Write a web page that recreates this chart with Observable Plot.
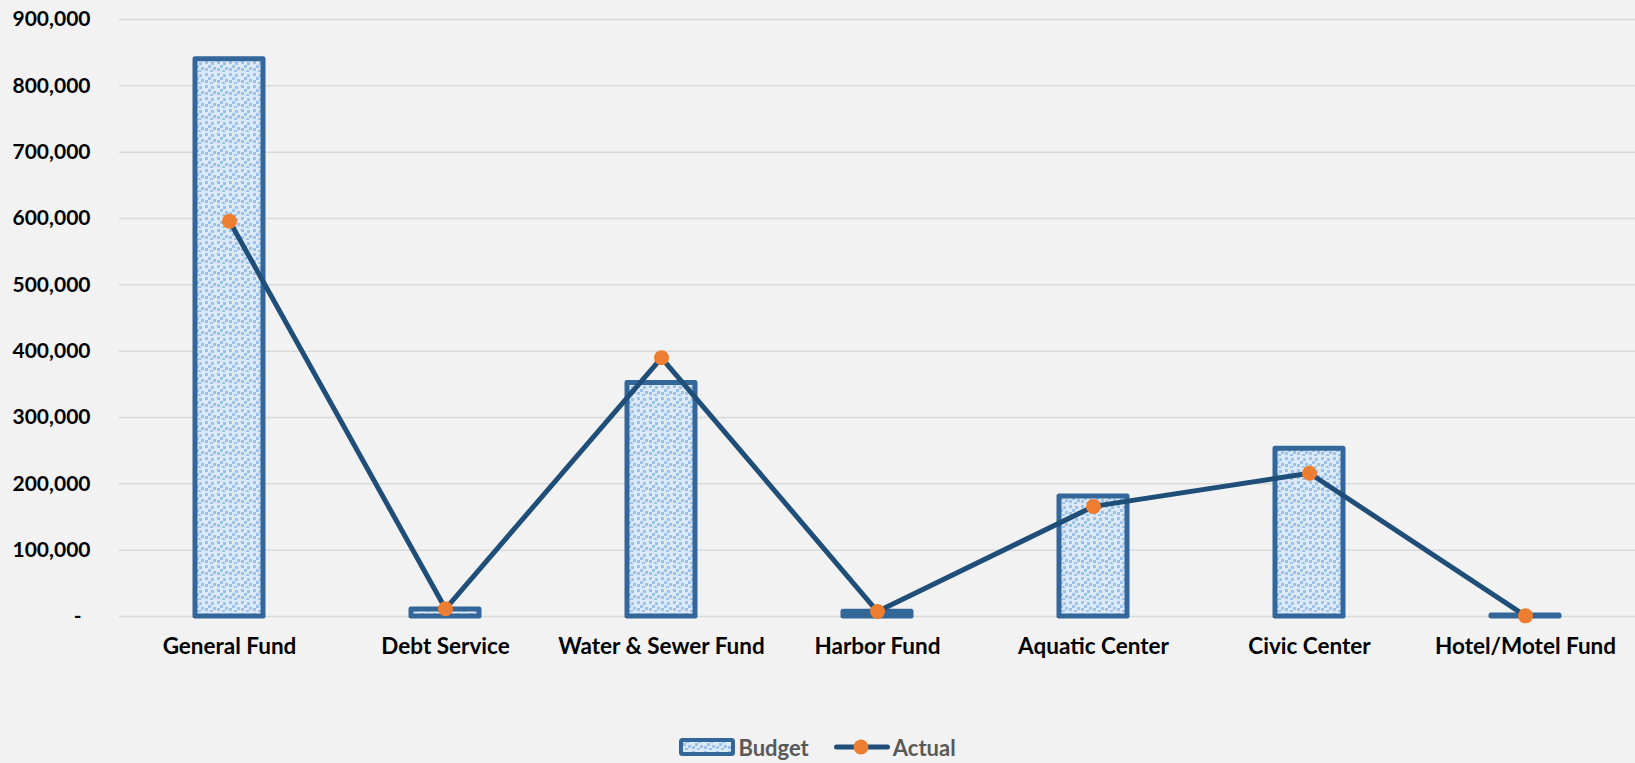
<!DOCTYPE html>
<html>
<head>
<meta charset="utf-8">
<script src="https://cdn.jsdelivr.net/npm/d3@7"></script>
<script src="https://cdn.jsdelivr.net/npm/@observablehq/plot@0.6"></script>
<style>
  html, body { margin: 0; padding: 0; background: #f2f2f2; }
  #chart { width: 1635px; }
  #legend {
    width: 1635px; height: 63px; box-sizing: border-box; padding-top: 31px;
    display: flex; justify-content: center; align-items: center;
    font-family: Lato, "Open Sans", sans-serif; font-weight: bold; font-size: 22px; color: #595959;
  }
  .item { display: flex; align-items: center; }
  .item svg { display: block; }
</style>
</head>
<body>
<svg width="0" height="0" style="position:absolute">
  <defs>
    <pattern id="confetti" patternUnits="userSpaceOnUse" width="12" height="12">
      <rect width="12" height="12" fill="#dce9f7"></rect>
      <rect x="1" y="1" width="3" height="3" fill="#9cc2e9"></rect>
      <rect x="7" y="2" width="3" height="3" fill="#9cc2e9"></rect>
      <rect x="4" y="5" width="3" height="3" fill="#9cc2e9"></rect>
      <rect x="9" y="7" width="3" height="3" fill="#9cc2e9"></rect>
      <rect x="1" y="8" width="3" height="3" fill="#9cc2e9"></rect>
      <rect x="6" y="10" width="3" height="2" fill="#9cc2e9"></rect>
    </pattern>
  </defs>
</svg>
<div id="chart"></div>
<div id="legend">
  <div class="item">
    <svg width="56" height="18"><rect x="2" y="2" width="52" height="14" rx="1.5" fill="url(#confetti)" stroke="#336699" stroke-width="4"></rect></svg>
    <span style="margin-left:3px">Budget</span>
  </div>
  <div class="item" style="margin-left:25px">
    <svg width="56" height="18"><line x1="2.5" x2="53.5" y1="9" y2="9" stroke="#1f4e79" stroke-width="5" stroke-linecap="round"></line><circle cx="27" cy="9" r="7.5" fill="#ed7d31"></circle></svg>
    <span style="margin-left:3px">Actual</span>
  </div>
</div>
<script>
const categories = ["General Fund", "Debt Service", "Water & Sewer Fund", "Harbor Fund", "Aquatic Center", "Civic Center", "Hotel/Motel Fund"];
const budget = [840000, 10500, 352000, 7000, 181000, 253000, 1500];
const actual = [596000, 11600, 390000, 7500, 166000, 216000, 1000];
const yTicks = [0, 100000, 200000, 300000, 400000, 500000, 600000, 700000, 800000, 900000];

const data = categories.map((c, i) => ({cat: c, budget: budget[i], actual: actual[i]}));
const fmt = d3.format(",");

const chart = Plot.plot({
  width: 1635,
  height: 700,
  marginTop: 19,
  marginBottom: 84,
  marginLeft: 119,
  marginRight: 0,
  style: {background: "#f2f2f2", fontFamily: "Lato, 'Open Sans', sans-serif", fontSize: "21px", fontWeight: "bold", color: "#000"},
  x: {domain: categories, paddingInner: 0.686, paddingOuter: 0.343, label: null},
  y: {domain: [0, 900000], label: null},
  marks: [
    Plot.gridY(yTicks, {stroke: "#d9d9d9", strokeOpacity: 1, strokeWidth: 1.5}),
    Plot.axisY(yTicks.filter(d => d !== 0), {tickSize: 0, tickPadding: 29, tickFormat: fmt, fill: "#000", label: null}),
    Plot.axisY([0], {tickSize: 0, tickPadding: 38, tickFormat: () => "-", fill: "#000", label: null}),
    Plot.axisX({tickSize: 0, tickPadding: 22, fill: "#000", fontSize: 22.5, label: null}),
    Plot.barY(data, {x: "cat", y: "budget", fill: "url(#confetti)", stroke: "#336699", strokeWidth: 5, strokeLinejoin: "round"}),
    Plot.line(data, {x: "cat", y: "actual", stroke: "#1f4e79", strokeWidth: 5, strokeLinejoin: "round"}),
    Plot.dot(data, {x: "cat", y: "actual", r: 7.5, fill: "#ed7d31", stroke: "none"})
  ]
});
document.getElementById("chart").appendChild(chart);
</script>
</body>
</html>
